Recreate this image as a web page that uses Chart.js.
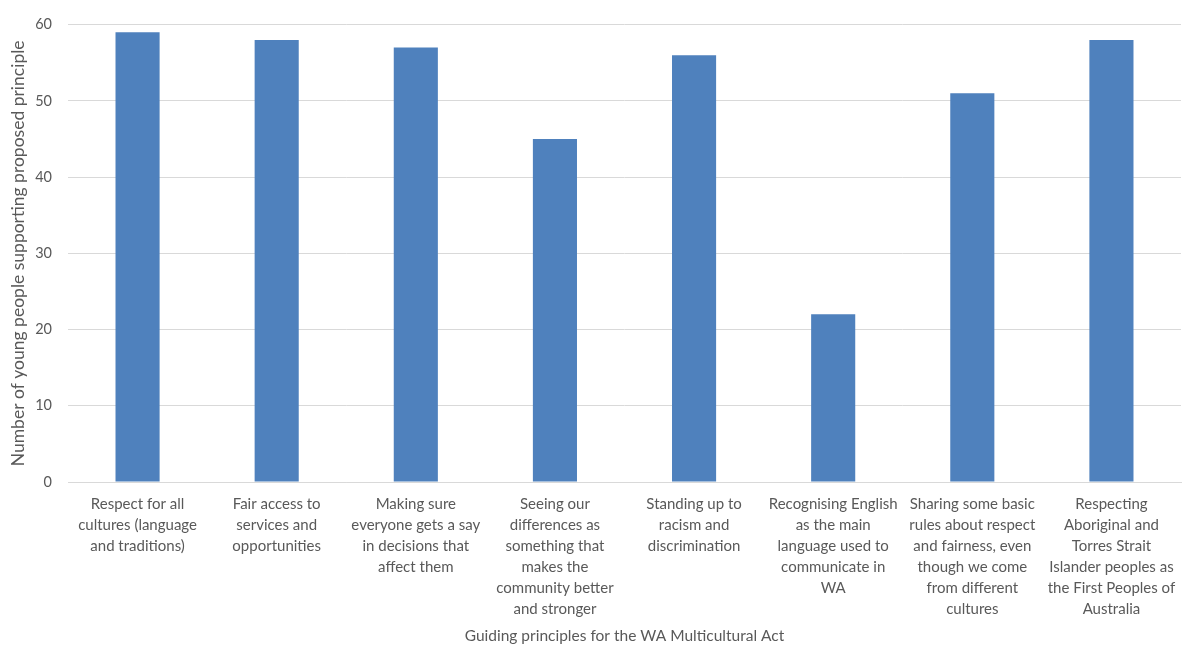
<!DOCTYPE html>
<html>
<head>
<meta charset="utf-8">
<script src="https://cdn.jsdelivr.net/npm/chart.js@4/dist/chart.umd.min.js"></script>
<style>
  html, body { margin: 0; padding: 0; background: #fff; }
  #wrap { width: 1185px; height: 645px; position: relative; }
</style>
</head>
<body>
<div id="wrap"><canvas id="chart"></canvas></div>
<script>
const categories = [
  ['Respect for all', 'cultures (language', 'and traditions)'],
  ['Fair access to', 'services and', 'opportunities'],
  ['Making sure', 'everyone gets a say', 'in decisions that', 'affect them'],
  ['Seeing our', 'differences as', 'something that', 'makes the', 'community better', 'and stronger'],
  ['Standing up to', 'racism and', 'discrimination'],
  ['Recognising English', 'as the main', 'language used to', 'communicate in', 'WA'],
  ['Sharing some basic', 'rules about respect', 'and fairness, even', 'though we come', 'from different', 'cultures'],
  ['Respecting', 'Aboriginal and', 'Torres Strait', 'Islander peoples as', 'the First Peoples of', 'Australia']
];
const supporters = [59, 58, 57, 45, 56, 22, 51, 58];
const yTicks = [0, 10, 20, 30, 40, 50, 60];

const textColor = '#595959';
const gridColor = '#d9d9d9';
const fontFamily = 'Lato, "Open Sans", sans-serif';

new Chart(document.getElementById('chart'), {
  type: 'bar',
  data: {
    labels: categories,
    datasets: [{
      data: supporters,
      backgroundColor: '#4f81bd',
      borderWidth: 0,
      categoryPercentage: 1,
      barPercentage: 0.317
    }]
  },
  options: {
    responsive: true,
    maintainAspectRatio: false,
    animation: false,
    layout: { padding: { top: 20, right: 4, left: 0, bottom: 0 } },
    plugins: {
      legend: { display: false },
      tooltip: { enabled: false }
    },
    scales: {
      x: {
        grid: { display: false },
        border: { color: gridColor, width: 1 },
        ticks: {
          color: textColor,
          font: { family: fontFamily, size: 15, lineHeight: 1.4 },
          maxRotation: 0,
          autoSkip: false,
          padding: 4
        },
        title: {
          display: true,
          text: 'Guiding principles for the WA Multicultural Act',
          color: textColor,
          font: { family: fontFamily, size: 15.5 },
          padding: { top: 2, bottom: 0 }
        },
        afterFit: function (axis) { axis.height = 163; }
      },
      y: {
        min: 0,
        max: 60,
        afterBuildTicks: function (axis) {
          axis.ticks = yTicks.map(v => ({ value: v }));
        },
        grid: { color: gridColor, drawTicks: false },
        border: { display: false },
        ticks: {
          color: textColor,
          font: { family: fontFamily, size: 14.5 },
          padding: 16
        },
        title: {
          display: true,
          text: 'Number of young people supporting proposed principle',
          color: textColor,
          font: { family: fontFamily, size: 17.5 },
          padding: { top: 8, bottom: 4 }
        },
        afterFit: function (axis) { axis.width = 68; }
      }
    }
  }
});
</script>
</body>
</html>
